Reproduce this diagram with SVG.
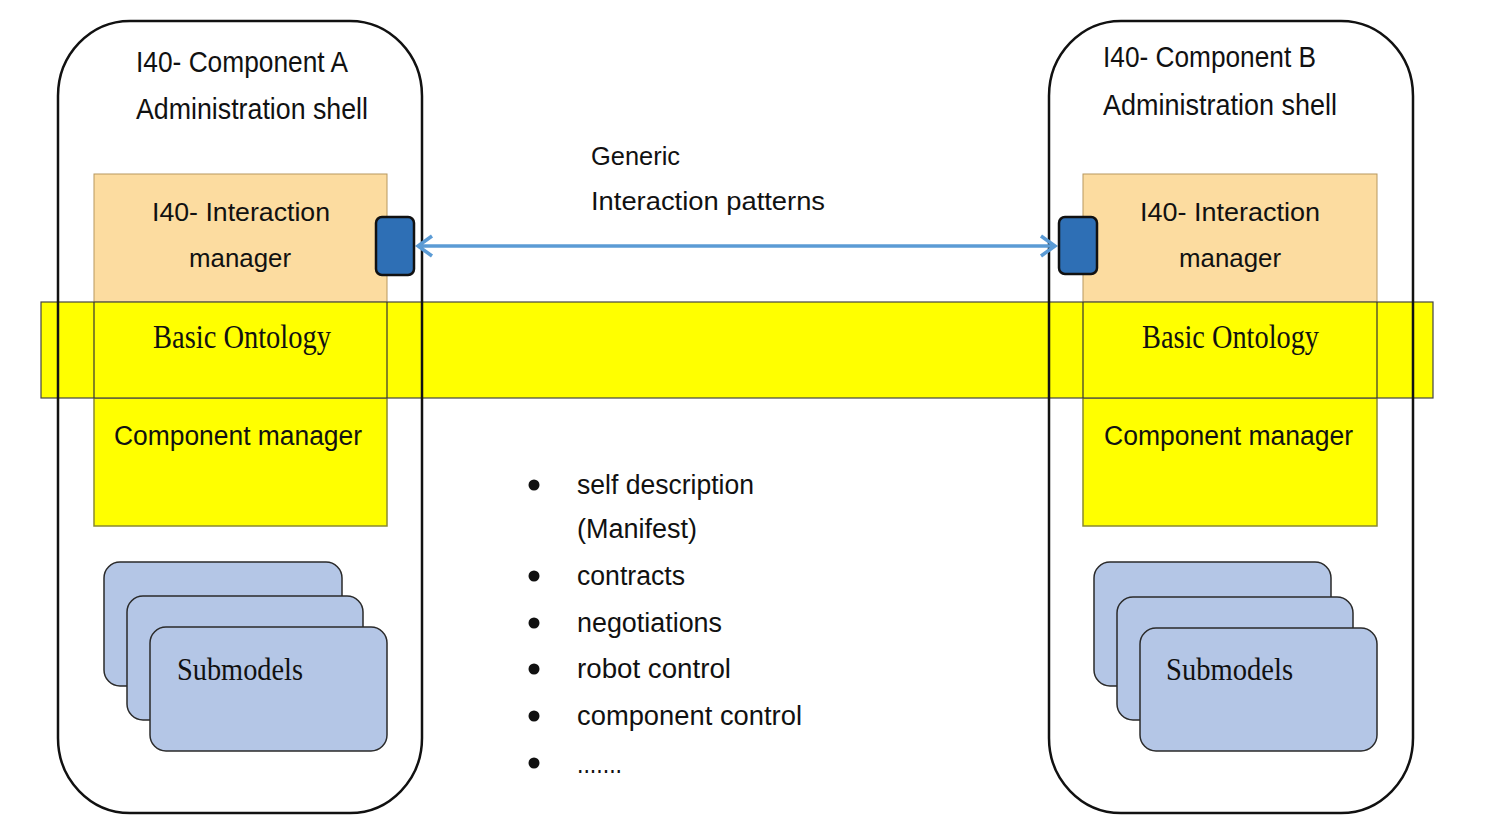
<svg xmlns="http://www.w3.org/2000/svg" width="1488" height="834" viewBox="0 0 1488 834">
<defs>
<style>
.shell{fill:none;stroke:#111;stroke-width:2.5}
.im{fill:#FCDCA0;stroke:#B8985E;stroke-width:1}
.cm{fill:#FFFF00;stroke:#8A8A30;stroke-width:1.5}
.band{fill:#FFFF00;stroke:#444;stroke-width:1.2}
.col{stroke:#333;stroke-width:1.2}
.port{fill:#2E6FB5;stroke:#111;stroke-width:2.5}
.sub{fill:#B4C6E6;stroke:#2a2a2a;stroke-width:1.5}
.sans{font-family:"Liberation Sans",Arial,sans-serif;fill:#111}
.serif{font-family:"Liberation Serif","Times New Roman",serif;fill:#111}
.conn{stroke:#5B9BD5;stroke-width:3.5;fill:none}
</style>
<marker id="chev" markerUnits="userSpaceOnUse" markerWidth="24" markerHeight="24" viewBox="0 0 24 24" refX="20" refY="12" orient="auto-start-reverse">
<path d="M6,2 L20,12 L6,22" fill="none" stroke="#5B9BD5" stroke-width="3.5" stroke-linejoin="miter"/>
</marker>
</defs>
<rect x="0" y="0" width="1488" height="834" fill="#fff"/>

<g id="componentA-interaction">
<rect class="im" x="94" y="174" width="293" height="128"/>
<text class="sans" x="241" y="221" font-size="26" text-anchor="middle" textLength="178" lengthAdjust="spacingAndGlyphs">I40- Interaction</text>
<text class="sans" x="240" y="267" font-size="26" text-anchor="middle" textLength="102" lengthAdjust="spacingAndGlyphs">manager</text>
</g>
<g id="componentB-interaction">
<rect class="im" x="1083" y="174" width="294" height="128"/>
<text class="sans" x="1230" y="221" font-size="26" text-anchor="middle" textLength="180" lengthAdjust="spacingAndGlyphs">I40- Interaction</text>
<text class="sans" x="1230" y="267" font-size="26" text-anchor="middle" textLength="102" lengthAdjust="spacingAndGlyphs">manager</text>
</g>

<g id="componentA-manager">
<rect class="cm" x="94" y="398" width="293" height="128"/>
<text class="sans" x="114" y="445" font-size="27" textLength="248" lengthAdjust="spacingAndGlyphs">Component manager</text>
</g>
<g id="componentB-manager">
<rect class="cm" x="1083" y="398" width="294" height="128"/>
<text class="sans" x="1104" y="445" font-size="27" textLength="249" lengthAdjust="spacingAndGlyphs">Component manager</text>
</g>

<g id="basic-ontology">
<rect class="band" x="41" y="302" width="1392" height="96"/>
<line class="col" x1="94" y1="302" x2="94" y2="398"/>
<line class="col" x1="387" y1="302" x2="387" y2="398"/>
<line class="col" x1="1083" y1="302" x2="1083" y2="398"/>
<line class="col" x1="1377" y1="302" x2="1377" y2="398"/>
<text class="serif" x="153" y="348" font-size="33" textLength="178" lengthAdjust="spacingAndGlyphs">Basic Ontology</text>
<text class="serif" x="1142" y="348" font-size="33" textLength="177" lengthAdjust="spacingAndGlyphs">Basic Ontology</text>
</g>

<g id="componentA-shell">
<rect class="shell" x="58" y="21" width="364" height="792" rx="72" ry="75"/>
<text class="sans" x="136" y="72" font-size="29" textLength="212" lengthAdjust="spacingAndGlyphs">I40- Component A</text>
<text class="sans" x="136" y="119" font-size="29" textLength="232" lengthAdjust="spacingAndGlyphs">Administration shell</text>
</g>
<g id="componentB-shell">
<rect class="shell" x="1049" y="21" width="364" height="792" rx="72" ry="75"/>
<text class="sans" x="1103" y="67" font-size="29" textLength="213" lengthAdjust="spacingAndGlyphs">I40- Component B</text>
<text class="sans" x="1103" y="115" font-size="29" textLength="234" lengthAdjust="spacingAndGlyphs">Administration shell</text>
</g>

<g id="componentA-submodels">
<rect class="sub" x="104" y="562" width="238" height="124" rx="16"/>
<rect class="sub" x="127" y="596" width="236" height="124" rx="16"/>
<rect class="sub" x="150" y="627" width="237" height="124" rx="16"/>
<text class="serif" x="177" y="680" font-size="32" textLength="126" lengthAdjust="spacingAndGlyphs">Submodels</text>
</g>
<g id="componentB-submodels">
<rect class="sub" x="1094" y="562" width="237" height="124" rx="16"/>
<rect class="sub" x="1117" y="597" width="236" height="123" rx="16"/>
<rect class="sub" x="1140" y="628" width="237" height="123" rx="16"/>
<text class="serif" x="1166" y="680" font-size="32" textLength="127" lengthAdjust="spacingAndGlyphs">Submodels</text>
</g>

<g id="connectors">
<line class="conn" x1="418" y1="246" x2="1055" y2="246" marker-start="url(#chev)" marker-end="url(#chev)"/>
</g>

<g id="componentA-port">
<rect class="port" x="376" y="217" width="38" height="58" rx="6"/>
</g>
<g id="componentB-port">
<rect class="port" x="1059" y="217" width="38" height="57" rx="6"/>
</g>

<g id="interaction-label">
<text class="sans" x="591" y="165" font-size="26" textLength="89" lengthAdjust="spacingAndGlyphs">Generic</text>
<text class="sans" x="591" y="210" font-size="26" textLength="234" lengthAdjust="spacingAndGlyphs">Interaction patterns</text>
</g>

<g id="pattern-list">
<circle cx="534" cy="485" r="5.5" fill="#111"/>
<circle cx="534" cy="576" r="5.5" fill="#111"/>
<circle cx="534" cy="623" r="5.5" fill="#111"/>
<circle cx="534" cy="669" r="5.5" fill="#111"/>
<circle cx="534" cy="716" r="5.5" fill="#111"/>
<circle cx="534" cy="763" r="5.5" fill="#111"/>
<text class="sans" x="577" y="494" font-size="27" textLength="177" lengthAdjust="spacingAndGlyphs">self description</text>
<text class="sans" x="577" y="538" font-size="27" textLength="120" lengthAdjust="spacingAndGlyphs">(Manifest)</text>
<text class="sans" x="577" y="585" font-size="27" textLength="108" lengthAdjust="spacingAndGlyphs">contracts</text>
<text class="sans" x="577" y="632" font-size="27" textLength="145" lengthAdjust="spacingAndGlyphs">negotiations</text>
<text class="sans" x="577" y="678" font-size="27" textLength="154" lengthAdjust="spacingAndGlyphs">robot control</text>
<text class="sans" x="577" y="725" font-size="27" textLength="225" lengthAdjust="spacingAndGlyphs">component control</text>
<text class="sans" x="577" y="773" font-size="27" textLength="45" lengthAdjust="spacingAndGlyphs">.......</text>
</g>
</svg>
